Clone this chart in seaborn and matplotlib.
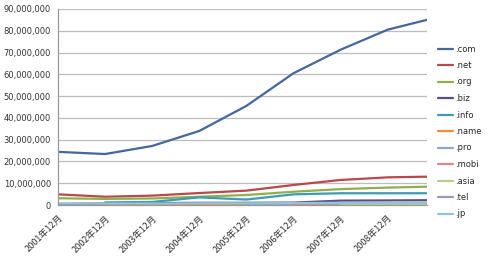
import numpy as np
import pandas as pd
import matplotlib
matplotlib.use("Agg")
import matplotlib.pyplot as plt
import seaborn as sns
from matplotlib.ticker import FuncFormatter

# ---- data (millions of registrations) ----
dates = ["2001-12", "2002-12", "2003-12", "2004-12", "2005-12",
         "2006-12", "2007-12", "2008-12", "2009-10"]
tick_dates = ["2001-12", "2002-12", "2003-12", "2004-12", "2005-12",
              "2006-12", "2007-12", "2008-12"]
tick_labels = ["2001年12月", "2002年12月", "2003年12月", "2004年12月",
               "2005年12月", "2006年12月", "2007年12月", "2008年12月"]
nan = np.nan
com = [24.4, 23.4, 27.1, 34.0, 45.5, 60.5, 71.3, 80.5, 85.0]
net = [4.9, 3.8, 4.3, 5.5, 6.6, 9.2, 11.5, 12.7, 13.0]
org = [3.1, 2.8, 3.0, 3.8, 4.6, 6.1, 7.3, 8.0, 8.4]
biz = [0.5, 0.7, 0.9, 1.0, 1.0, 1.1, 2.0, 2.1, 2.2]
info = [nan, 1.2, 1.4, 3.5, 2.5, 4.9, 5.4, 5.4, 5.4]
name = [nan, 0.1, 0.1, 0.1, 0.2, 0.2, 0.3, 0.3, 0.3]
pro = [nan, nan, nan, nan, 0.05, 0.1, 0.1, 0.2, 0.2]
mobi = [nan, nan, nan, nan, nan, 0.2, 0.8, 0.9, 0.9]
asia = [nan, nan, nan, nan, nan, nan, 0.1, 0.25, 0.25]
tel = [nan, nan, nan, nan, nan, nan, nan, nan, 0.2]
jp = [0.6, 0.7, 0.7, 0.8, 0.8, 0.9, 1.0, 1.0, 1.1]

series = {".com": com, ".net": net, ".org": org, ".biz": biz, ".info": info,
          ".name": name, ".pro": pro, ".mobi": mobi, ".asia": asia,
          ".tel": tel, ".jp": jp}
colors = ["#44679C", "#B8484A", "#8FAF4F", "#5E4A86", "#3D9BB5", "#F08C3C",
          "#8EA6C8", "#D58A88", "#B7CE8A", "#A396BD", "#92C4D8"]

def to_years(d):
    t = pd.Timestamp(d)
    return t.year + (t.month - 1) / 12.0

rows = []
for k, v in series.items():
    for d, val in zip(dates, v):
        rows.append({"date": to_years(d), "domain": k, "count": val * 1e6})
df = pd.DataFrame(rows).dropna()

sns.set_style("white")
plt.rcParams["font.family"] = ["DejaVu Sans", "Noto Sans CJK JP"]

fig = plt.figure(figsize=(5.0, 2.63), dpi=100)
ax = fig.add_axes([0.116, 0.2205, 0.738, 0.7455])

sns.lineplot(data=df, x="date", y="count", hue="domain",
             hue_order=list(series.keys()), palette=colors,
             linewidth=1.6, ax=ax, legend=True)

ax.set_xlim(to_years(dates[0]), to_years(dates[-1]))
ax.set_ylim(0, 90e6)
ax.set_yticks(np.arange(0, 90e6 + 1, 10e6))
ax.yaxis.set_major_formatter(FuncFormatter(lambda v, p: f"{int(v):,}"))
ax.set_xticks([to_years(d) for d in tick_dates])
ax.set_xticklabels(tick_labels, rotation=45, ha="right", rotation_mode="anchor",
                   family=["Noto Sans CJK JP", "DejaVu Sans"])
ax.tick_params(axis="both", labelsize=6, colors="#333333", length=3,
               width=0.8, direction="out", pad=2)
ax.tick_params(axis="x", labelsize=6.6, color="#999999", pad=3)
ax.tick_params(axis="y", color="#999999")
ax.grid(axis="y", color="#BDBDBD", linewidth=0.9)
ax.set_axisbelow(True)
for s in ["top", "right"]:
    ax.spines[s].set_visible(False)
for s in ["left", "bottom"]:
    ax.spines[s].set_color("#999999")
    ax.spines[s].set_linewidth(0.9)
ax.set_xlabel("")
ax.set_ylabel("")

handles, labels = ax.get_legend_handles_labels()
ax.legend(handles, labels, loc="center left", bbox_to_anchor=(0.87, 0.5),
          bbox_transform=fig.transFigure, frameon=False, fontsize=6,
          handlelength=1.8, handletextpad=0.2, labelspacing=0.9,
          borderaxespad=0)
for h in ax.get_legend().get_lines():
    h.set_linewidth(1.6)

fig.savefig("out.png", dpi=100)
